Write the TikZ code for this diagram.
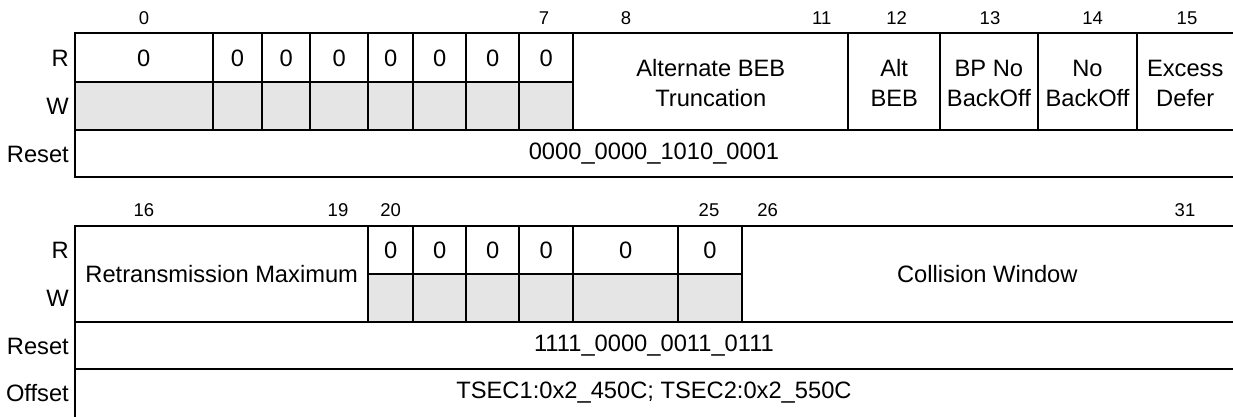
\documentclass[tikz,border=0pt]{standalone}
\usepackage{fontspec}
\setmainfont{Liberation Sans}
\definecolor{wgray}{RGB}{229,229,229}
\begin{document}
\begin{tikzpicture}[x=1pt,y=-1pt,
  reg/.style={line width=2pt, line cap=rect},
  wfill/.style={fill=wgray, draw=none},
  bitno/.style={inner sep=0pt, font=\fontsize{18.5}{20}\selectfont},
  fld/.style={inner sep=0pt, align=center, font=\fontsize{23.7}{30}\selectfont},
  rowlab/.style={inner sep=0pt, anchor=east, font=\fontsize{23.7}{28}\selectfont}]
\useasboundingbox (0,0) rectangle (1233,417);
% ---------- top register ----------
\fill[wfill] (75,82) rectangle (573.3,130);
\draw[reg] (1233,33.5) -- (75,33.5) -- (75,177) -- (1233,177);
\draw[reg] (75,130) -- (1233,130);
\draw[reg] (75,82) -- (573.3,82);
\foreach \x in {212.7,262.3,310,368.3,413.3,466,519.3,573.3,848.3,940,1037.7,1137.3}
  \draw[reg] (\x,33.5) -- (\x,130);
% bit numbers
\node[bitno] (t0) at (144,18) {0};
\node[bitno] (t7) at (544,18) {7};
\node[bitno] (t8) at (626,18) {8};
\node[bitno] (t11) at (821.7,18) {11};
\node[bitno] (t12) at (896.7,18) {12};
\node[bitno] (t13) at (990,18) {13};
\node[bitno] (t14) at (1092.7,18) {14};
\node[bitno] (t15) at (1187,18) {15};
% row labels
\node[rowlab] (tR) at (69,58) {R};
\node[rowlab] (tW) at (69,106) {W};
\node[rowlab] (tReset) at (69,154) {Reset};
% fields
\node[fld] (z0) at (143.8,58) {0};
\node[fld] (z1) at (237.5,58) {0};
\node[fld] (z2) at (286.2,58) {0};
\node[fld] (z3) at (339.2,58) {0};
\node[fld] (z4) at (390.8,58) {0};
\node[fld] (z5) at (439.7,58) {0};
\node[fld] (z6) at (492.7,58) {0};
\node[fld] (z7) at (546.3,58) {0};
\node[fld] (abt) at (710.8,83) {Alternate BEB\\Truncation};
\node[fld] (ab) at (894.2,83) {Alt\\BEB};
\node[fld] (bp) at (988.9,83) {BP No\\BackOff};
\node[fld] (nb) at (1087.5,83) {No\\BackOff};
\node[fld] (ed) at (1185.2,83) {Excess\\Defer};
\node[fld] (rst1) at (654,154) {0000\_0000\_1010\_0001};
% ---------- bottom register ----------
\fill[wfill] (368.3,274) rectangle (741.7,321.7);
\draw[reg] (1233,226) -- (75,226) -- (75,417);
\draw[reg] (75,321.7) -- (1233,321.7);
\draw[reg] (75,369.3) -- (1233,369.3);
\draw[reg] (368.3,274) -- (741.7,274);
\foreach \x in {368.3,413.3,466,519.3,573.3,678.3,741.7}
  \draw[reg] (\x,226) -- (\x,321.7);
% bit numbers
\node[bitno] (b16) at (144,210) {16};
\node[bitno] (b19) at (338,210) {19};
\node[bitno] (b20) at (390.7,210) {20};
\node[bitno] (b25) at (709,210) {25};
\node[bitno] (b26) at (767.7,210) {26};
\node[bitno] (b31) at (1185,210) {31};
% row labels
\node[rowlab] (bR) at (69,250) {R};
\node[rowlab] (bW) at (69,298) {W};
\node[rowlab] (bReset) at (69,346) {Reset};
\node[rowlab] (bOffset) at (69,393) {Offset};
% fields
\node[fld] (rm) at (221.7,274) {Retransmission Maximum};
\node[fld] (y0) at (390.8,250) {0};
\node[fld] (y1) at (439.7,250) {0};
\node[fld] (y2) at (492.7,250) {0};
\node[fld] (y3) at (546.3,250) {0};
\node[fld] (y4) at (625.8,250) {0};
\node[fld] (y5) at (710,250) {0};
\node[fld] (cw) at (987.3,274) {Collision Window};
\node[fld] (rst2) at (654,346) {1111\_0000\_0011\_0111};
\node[fld] (off) at (654,393) {TSEC1:0x2\_450C; TSEC2:0x2\_550C};
\end{tikzpicture}
\end{document}
